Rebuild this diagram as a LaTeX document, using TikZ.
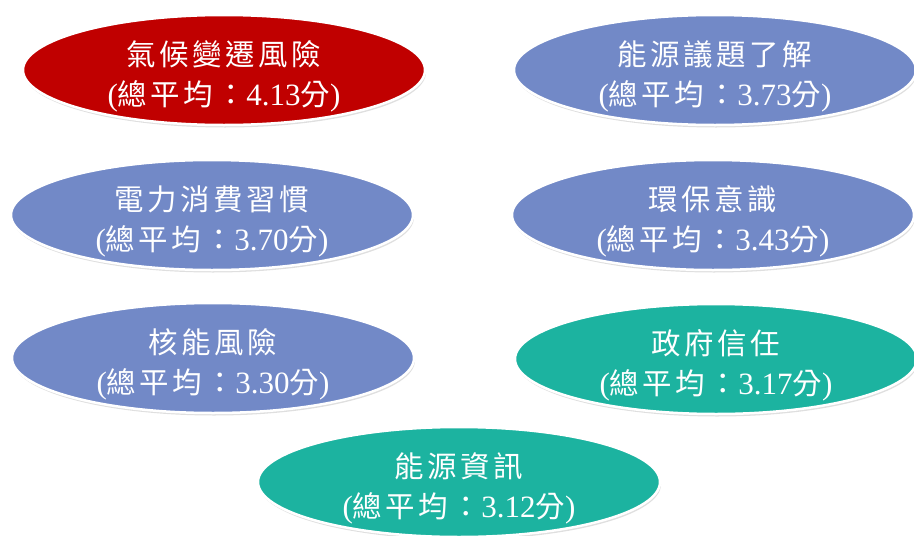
\documentclass[tikz,border=0pt]{standalone}
\usepackage{fontspec}
\setmainfont{Liberation Serif}
\newfontfamily\cjk{Noto Sans CJK TC}[Scale=0.95,LetterSpace=12]
\usetikzlibrary{shapes.geometric,shadows}
\newcommand\cj[1]{{\cjk #1}}
\newcommand\fstrut{\rule{0pt}{38pt}}
\definecolor{cred}{RGB}{192,0,0}
\definecolor{cblue}{RGB}{114,137,199}
\definecolor{cteal}{RGB}{28,179,160}
\tikzset{
  oval/.style={ellipse, draw=white, line width=2.5pt, minimum width=402pt, minimum height=110pt,
    inner xsep=0pt, inner ysep=-12pt, align=center, text=white,
    font=\fontsize{31}{40}\selectfont,
    drop shadow={opacity=0.25, shadow xshift=1pt, shadow yshift=-2.5pt}},
  redoval/.style={oval, fill=cred},
  blueoval/.style={oval, fill=cblue},
  tealoval/.style={oval, fill=cteal}
}
\begin{document}
\begin{tikzpicture}[x=1pt,y=-1pt]
\useasboundingbox (0,0) rectangle (914,536);
\node[redoval] (climate) at (224,70) {\fstrut\cj{氣候變遷風險}\\(\cj{總平均：}4.13\cj{分})};
\node[blueoval] (energy) at (715,70) {\fstrut\cj{能源議題了解}\\(\cj{總平均：}3.73\cj{分})};
\node[blueoval] (power) at (212,215) {\fstrut\cj{電力消費習慣}\\(\cj{總平均：}3.70\cj{分})};
\node[blueoval] (env) at (713,215) {\fstrut\cj{環保意識}\\(\cj{總平均：}3.43\cj{分})};
\node[blueoval] (nuclear) at (213,358) {\fstrut\cj{核能風險}\\(\cj{總平均：}3.30\cj{分})};
\node[tealoval] (gov) at (716,359) {\fstrut\cj{政府信任}\\(\cj{總平均：}3.17\cj{分})};
\node[tealoval] (info) at (459,482) {\fstrut\cj{能源資訊}\\(\cj{總平均：}3.12\cj{分})};
\end{tikzpicture}
\end{document}
